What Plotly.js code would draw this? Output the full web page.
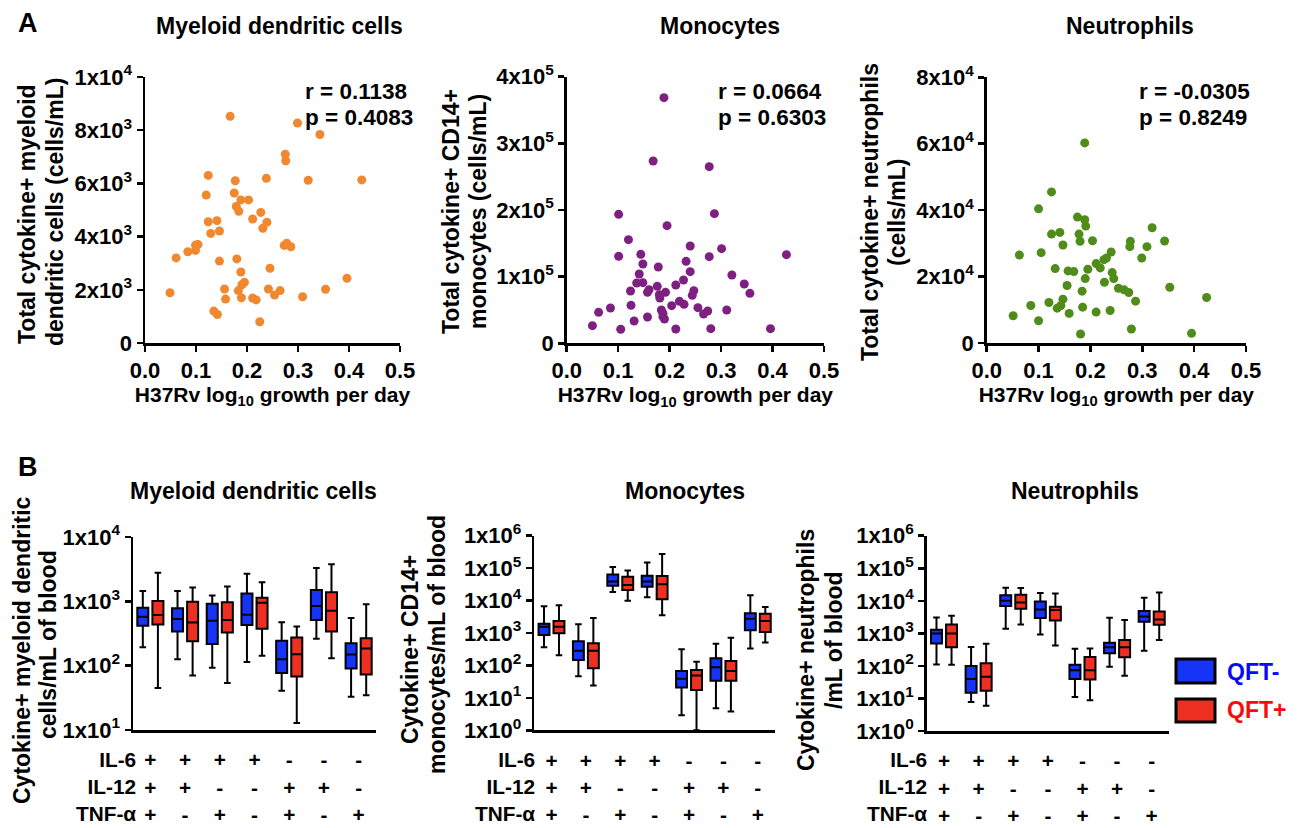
<!DOCTYPE html>
<html><head><meta charset="utf-8">
<script src="https://cdn.plot.ly/plotly-3.0.1.min.js"></script>
<style>html,body{margin:0;padding:0;background:#fff}#chart{width:1300px;height:828px}</style>
</head><body><div id="chart"></div>
<script>
// ---------- Panel A data (scatter) ----------
const mdcX = [0.167,0.299,0.343,0.275,0.276,0.124,0.177,0.238,0.320,0.425,0.120,0.175,0.188,0.203,0.179,0.184,0.227,0.211,0.124,0.141,0.239,0.129,0.146,0.231,0.099,0.104,0.084,0.099,0.273,0.278,0.286,0.061,0.146,0.180,0.245,0.188,0.396,0.195,0.190,0.049,0.156,0.183,0.242,0.265,0.354,0.158,0.189,0.211,0.218,0.254,0.309,0.135,0.142,0.225];
const mdcY = [8520,8270,7840,7100,6850,6300,6100,6190,6120,6130,5560,5640,5380,5380,5130,4950,4910,4660,4560,4600,4540,4120,4210,4310,3680,3700,3430,3480,3670,3750,3620,3200,3080,3160,2810,2670,2430,2280,2190,1890,2030,1970,2030,1970,2020,1650,1700,1690,1620,1800,1740,1200,1070,800];

const monoX = [0.189,0.168,0.277,0.101,0.287,0.195,0.120,0.240,0.301,0.101,0.144,0.277,0.427,0.148,0.232,0.178,0.240,0.141,0.321,0.136,0.148,0.227,0.212,0.345,0.176,0.124,0.160,0.157,0.180,0.192,0.181,0.247,0.244,0.356,0.219,0.228,0.125,0.085,0.062,0.204,0.255,0.274,0.266,0.311,0.184,0.187,0.187,0.157,0.190,0.131,0.050,0.105,0.212,0.280,0.396];
const monoY = [368500,273500,265000,193500,194500,176500,155500,146000,142000,130500,133500,130000,133000,119000,123000,114500,107500,104000,102500,90500,91000,95000,87500,89000,85500,78500,80500,76500,73000,76500,68000,79000,72000,75000,63000,58500,57000,53000,46500,56500,53500,48500,44000,50000,50000,45000,40000,39500,36500,33500,26500,21000,21500,22000,22000];

const neutX = [0.189,0.125,0.100,0.175,0.189,0.191,0.319,0.125,0.141,0.178,0.180,0.204,0.277,0.343,0.147,0.276,0.309,0.063,0.105,0.240,0.231,0.226,0.299,0.211,0.219,0.132,0.157,0.168,0.195,0.242,0.245,0.190,0.227,0.155,0.254,0.265,0.274,0.353,0.184,0.147,0.287,0.424,0.120,0.085,0.143,0.136,0.185,0.051,0.159,0.211,0.238,0.100,0.279,0.181,0.395];
const neutY = [60250,45500,40400,37900,37100,35200,34700,32800,33300,32800,30600,30800,30600,30700,29500,29000,29000,26500,27200,27400,25600,25100,25600,23900,22600,22400,21700,21500,22200,21200,19400,19400,18300,17300,16500,16000,15200,16800,15600,13200,12600,13700,12200,11300,11300,10500,10800,8200,8900,9300,9800,6700,4200,2700,2900];

const corrR = ['0.1138','0.0664','-0.0305'];
const corrP = ['0.4083','0.6303','0.8249'];

// ---------- Panel B data (box summaries) ----------
const groups = [0,1,2,3,4,5,6];
const il6  = ['+','+','+','+','-','-','-'];
const il12 = ['+','+','-','-','+','+','-'];
const tnf  = ['+','-','+','-','+','-','+'];

const mdcNegHi  = [1449,1449,1227,2673,475,3283,550];
const mdcNegQ3  = [796,778,920,1318,243,1503,223];
const mdcNegMed = [576,530,499,619,126,845,149];
const mdcNegQ1  = [417,340,218,427,77,511,90];
const mdcNegLo  = [193,126,93,114,40.6,261,32.8];
const mdcPosHi  = [2775,1636,1693,1982,407,3784,898];
const mdcPosQ3  = [1012,989,964,1141,274,1383,267];
const mdcPosMed = [611,470,511,953,150,714,185];
const mdcPosQ1  = [437,240,328,374,68,340,73];
const mdcPosLo  = [44.8,70.6,54,143,12.9,130,34.8];

const monoNegHi  = [6650,1855,108600,147900,314,470,14500];
const monoNegQ3  = [1945,555,63100,58700,67,166,4050];
const monoNegMed = [1570,286,38400,38400,39,87.5,2770];
const monoNegQ1  = [869,147,28800,26900,21,34,1210];
const monoNegLo  = [362,46,18400,12600,2.9,4.8,330];
const monoPosHi  = [7145,2910,83800,273500,131,720,6350];
const monoPosQ3  = [2350,481,54700,57400,72,137,3955];
const monoPosMed = [1570,286,30300,31800,49,67.5,2350];
const monoPosQ1  = [980,82,21200,10900,17.5,34,1075];
const monoPosLo  = [205,24,9950,3520,1,3.8,505];

const neutNegHi  = [3090,379,25200,17260,337,3020,12400];
const neutNegQ3  = [1295,99,14700,9590,109,515,4840];
const neutNegMed = [998,39.5,10050,5445,73,371,3320];
const neutNegQ1  = [492,15,6890,2950,39.5,243,2275];
const neutNegLo  = [111,7.8,1390,929,11.1,94.4,293];
const neutPosHi  = [3475,481,24600,16870,345,2560,18100];
const neutPosQ3  = [1885,120,15350,6580,187,622,4730];
const neutPosMed = [998,46.5,8930,5190,73,371,2685];
const neutPosQ1  = [371,17.3,5700,2500,38.5,183,1840];
const neutPosLo  = [109,6.0,1885,427,8.75,50,622];

// ---------- style ----------
const W = 1300, H = 828;
const px = v => v / W, py = v => 1 - v / H;
const FONT = 'Liberation Sans, Arial, Helvetica, sans-serif';
const ORANGE = 'rgb(240,136,48)', PURPLE = 'rgb(126,32,130)', GREEN = 'rgb(80,140,26)';
const BLUE = 'rgb(22,52,248)', RED = 'rgb(238,48,34)';
const TICK = 22;
const ROWFONT = 20.8;

function scatter(x, y, color, ax) {
  return {type:'scatter', mode:'markers', x:x, y:y, xaxis:'x'+ax, yaxis:'y'+ax,
          marker:{color:color, size:9}, showlegend:false, hoverinfo:'x+y', cliponaxis:false};
}
function box(name, lo, q1, med, q3, hi, color, ax) {
  return {type:'box', name:name, x:groups, lowerfence:lo, q1:q1, median:med, q3:q3, upperfence:hi,
          xaxis:'x'+ax, yaxis:'y'+ax, fillcolor:color, line:{color:'black', width:2},
          alignmentgroup:'panel'+ax, offsetgroup:name,
          whiskerwidth:0.6, boxpoints:false, showlegend:false};
}

const data = [
  scatter(mdcX, mdcY, ORANGE, ''),
  scatter(monoX, monoY, PURPLE, '2'),
  scatter(neutX, neutY, GREEN, '3'),
  box('QFT-', mdcNegLo, mdcNegQ1, mdcNegMed, mdcNegQ3, mdcNegHi, BLUE, '4'),
  box('QFT+', mdcPosLo, mdcPosQ1, mdcPosMed, mdcPosQ3, mdcPosHi, RED, '4'),
  box('QFT-', monoNegLo, monoNegQ1, monoNegMed, monoNegQ3, monoNegHi, BLUE, '5'),
  box('QFT+', monoPosLo, monoPosQ1, monoPosMed, monoPosQ3, monoPosHi, RED, '5'),
  box('QFT-', neutNegLo, neutNegQ1, neutNegMed, neutNegQ3, neutNegHi, BLUE, '6'),
  box('QFT+', neutPosLo, neutPosQ1, neutPosMed, neutPosQ3, neutPosHi, RED, '6')
];

const baseAxis = {showline:true, linewidth:2.5, linecolor:'black', ticks:'outside', ticklen:6,
  tickwidth:2.5, tickcolor:'black', showgrid:false, zeroline:false, fixedrange:true,
  tickfont:{size:TICK, family:FONT, weight:'bold'}};
const ax = o => Object.assign({}, baseAxis, o);

const sci = (m, e) => m + 'x10<sup>' + e + '</sup>';
const xTitle = {text:'H37Rv log<sub>10</sub> growth per day', font:{size:21, family:FONT, weight:'bold'}, standoff:4};
const xTicksA = {tickvals:[0,0.1,0.2,0.3,0.4,0.5], ticktext:['0.0','0.1','0.2','0.3','0.4','0.5'], range:[0,0.5]};
const comboText = groups.map(i => il6[i] + '<br>' + il12[i] + '<br>' + tnf[i]);
const xB = {range:[-0.5,6.5], ticks:'', tickvals:groups, ticktext:comboText,
  tickfont:{size:ROWFONT, family:FONT, weight:'bold'}, ticklabelstandoff:10};
const logVals = [1,10,100,1000,10000,100000,1000000];
const logText = logVals.map((v,i) => sci(1, i));

const layout = {
  width:W, height:H, margin:{l:0,r:0,t:0,b:0}, paper_bgcolor:'white', plot_bgcolor:'white',
  font:{family:FONT, color:'black', weight:'bold', size:TICK}, showlegend:false,
  boxmode:'group', boxgap:0.13, boxgroupgap:0.27,
  xaxis:  ax(Object.assign({domain:[px(145), px(400)], anchor:'y', title:xTitle}, xTicksA)),
  yaxis:  ax({domain:[py(343), py(77)], anchor:'x', range:[0,10000],
              tickvals:[0,2000,4000,6000,8000,10000], ticktext:['0',sci(2,3),sci(4,3),sci(6,3),sci(8,3),sci(1,4)]}),
  xaxis2: ax(Object.assign({domain:[px(566.7), px(824)], anchor:'y2', title:xTitle}, xTicksA)),
  yaxis2: ax({domain:[py(343.3), py(76.7)], anchor:'x2', range:[0,400000],
              tickvals:[0,100000,200000,300000,400000], ticktext:['0',sci(1,5),sci(2,5),sci(3,5),sci(4,5)]}),
  xaxis3: ax(Object.assign({domain:[px(986.7), px(1246)], anchor:'y3', title:xTitle}, xTicksA)),
  yaxis3: ax({domain:[py(343), py(77.3)], anchor:'x3', range:[0,80000],
              tickvals:[0,20000,40000,60000,80000], ticktext:['0',sci(2,4),sci(4,4),sci(6,4),sci(8,4)]}),
  xaxis4: ax(Object.assign({domain:[px(133), px(376)], anchor:'y4'}, xB)),
  yaxis4: ax({domain:[py(730), py(537)], anchor:'x4', type:'log', range:[1,4],
              tickvals:logVals.slice(1,5), ticktext:logText.slice(1,5)}),
  xaxis5: ax(Object.assign({domain:[px(534.3), px(775)], anchor:'y5'}, xB)),
  yaxis5: ax({domain:[py(730.3), py(535.7)], anchor:'x5', type:'log', range:[0,6],
              tickvals:logVals, ticktext:logText}),
  xaxis6: ax(Object.assign({domain:[px(926.7), px(1169)], anchor:'y6'}, xB)),
  yaxis6: ax({domain:[py(731), py(535.7)], anchor:'x6', type:'log', range:[0,6],
              tickvals:logVals, ticktext:logText}),
  shapes: [
    {type:'rect', xref:'paper', yref:'paper', x0:px(1176), x1:px(1215), y0:py(683), y1:py(659),
     fillcolor:BLUE, line:{color:'black', width:3}},
    {type:'rect', xref:'paper', yref:'paper', x0:px(1176), x1:px(1215), y0:py(722), y1:py(699),
     fillcolor:RED, line:{color:'black', width:3}}
  ],
  annotations: []
};

const A = layout.annotations;
function note(text, x, y, size, extra) {
  A.push(Object.assign({text:text, xref:'paper', yref:'paper', x:px(x), y:py(y), showarrow:false,
    xanchor:'center', yanchor:'middle', font:{size:size, family:FONT, weight:'bold', color:'black'}}, extra || {}));
}
// panel letters
note('A', 28, 23, 27);
note('B', 28, 467, 27);
// titles
note('Myeloid dendritic cells', 279, 26, 23);
note('Monocytes', 720, 26, 23);
note('Neutrophils', 1130, 26, 23);
note('Myeloid dendritic cells', 253, 491, 23);
note('Monocytes', 685, 491, 23);
note('Neutrophils', 1075, 491, 23);
// correlation statistics
[[303,0],[716,1],[1137,2]].forEach(([x,i]) => {
  note('r = ' + corrR[i], x, 91, 22.5, {xanchor:'left'});
  note('p = ' + corrP[i], x, 118, 22.5, {xanchor:'left'});
});
// y-axis titles (two lines each)
const rot = {textangle:-90};
note('Total cytokine+ myeloid', 27, 214, 23, rot);
note('dendritic cells (cells/mL)', 55, 212, 23, rot);
note('Total cytokine+ CD14+', 451, 212, 23, rot);
note('monocytes (cells/mL)', 478, 212, 23, rot);
note('Total cytokine+ neutrophils', 870, 212, 23, rot);
note('(cells/mL)', 897, 212, 23, rot);
note('Cytokine+ myeloid dendritic', 22, 650, 23, rot);
note('cells/mL of blood', 48, 645, 23, rot);
note('Cytokine+ CD14+', 410, 650, 23, rot);
note('monocytes/mL of blood', 437, 645, 23, rot);
note('Cytokine+ neutrophils', 806, 650, 23, rot);
note('/mL of blood', 834, 640, 23, rot);
// row labels for the cytokine table
[137, 536, 928].forEach(x => {
  note('IL-6<br>IL-12<br>TNF-α', x, 786.5, ROWFONT, {xanchor:'right', align:'right', borderpad:0});
});
// legend
note('QFT-', 1225, 672, 23, {xanchor:'left', font:{size:23, family:FONT, weight:'bold', color:'rgb(10,10,245)'}});
note('QFT+', 1225, 710, 23, {xanchor:'left', font:{size:23, family:FONT, weight:'bold', color:'rgb(250,10,10)'}});

Plotly.newPlot('chart', data, layout, {displayModeBar:false, staticPlot:true});
</script></body></html>
